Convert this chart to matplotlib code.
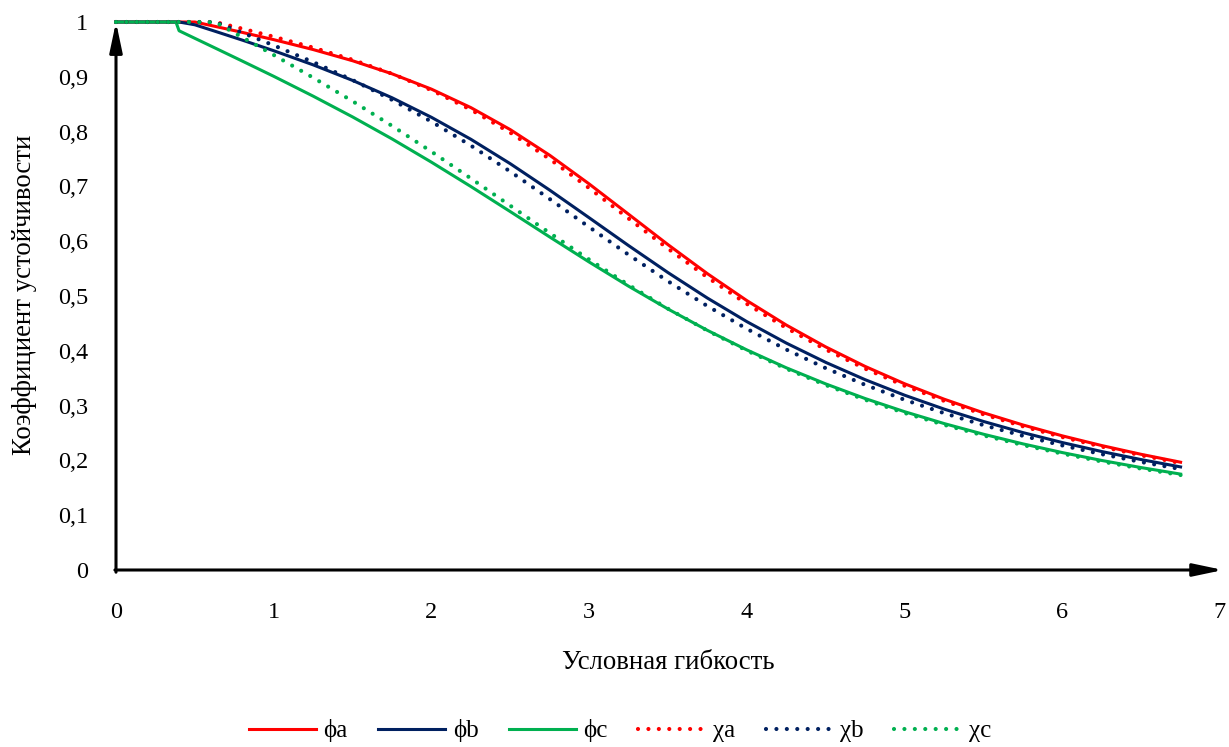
import matplotlib
matplotlib.use("Agg")
import matplotlib.pyplot as plt

# ---- data ----
slenderness = [0, 0.38, 0.4, 0.5, 0.63, 0.8, 1.0, 1.25, 1.5, 1.75, 2.0, 2.25, 2.5, 2.75,
               3.0, 3.25, 3.5, 3.75, 4.0, 4.25, 4.5, 4.75, 5.0, 5.25, 5.5, 5.75, 6.0,
               6.25, 6.5, 6.75]
phi_a = [1, 1, 1, 1, 0.9919, 0.9811, 0.9678, 0.9497, 0.9293, 0.9055, 0.8775, 0.8438,
         0.8036, 0.7568, 0.7045, 0.6492, 0.5937, 0.5407, 0.4916, 0.4470, 0.4071, 0.3715,
         0.3399, 0.3118, 0.2869, 0.2647, 0.2448, 0.2271, 0.2111, 0.1967]
phi_b = [1, 1, 1, 0.9949, 0.9829, 0.9670, 0.9476, 0.9218, 0.8934, 0.8618, 0.8261, 0.7860,
         0.7414, 0.6932, 0.6428, 0.5920, 0.5427, 0.4962, 0.4532, 0.4141, 0.3789, 0.3473,
         0.3190, 0.2937, 0.2711, 0.2508, 0.2326, 0.2162, 0.2015, 0.1881]
phi_c = [1, 1, 0.9840, 0.9702, 0.9523, 0.9288, 0.9009, 0.8647, 0.8268, 0.7867, 0.7442,
         0.6998, 0.6540, 0.6077, 0.5620, 0.5179, 0.4762, 0.4373, 0.4016, 0.3690, 0.3396,
         0.3129, 0.2889, 0.2673, 0.2478, 0.2302, 0.2143, 0.1999, 0.1869, 0.1750]
chi_a = [1, 1, 1, 1, 0.9999, 0.9879, 0.9732, 0.9533, 0.9311, 0.9056, 0.8756, 0.8400,
         0.7981, 0.7499, 0.6969, 0.6414, 0.5864, 0.5340, 0.4856, 0.4417, 0.4024, 0.3674,
         0.3363, 0.3087, 0.2841, 0.2622, 0.2426, 0.2251, 0.2093, 0.1951]
chi_b = [1, 1, 1, 1, 0.9998, 0.9805, 0.9574, 0.9269, 0.8941, 0.8580, 0.8183, 0.7745,
         0.7271, 0.6770, 0.6258, 0.5753, 0.5269, 0.4816, 0.4400, 0.4023, 0.3683, 0.3379,
         0.3106, 0.2863, 0.2644, 0.2449, 0.2273, 0.2114, 0.1971, 0.1842]
chi_c = [1, 1, 1, 1, 0.9997, 0.9722, 0.9398, 0.8984, 0.8555, 0.8105, 0.7635, 0.7146,
         0.6648, 0.6150, 0.5665, 0.5202, 0.4768, 0.4368, 0.4003, 0.3673, 0.3375, 0.3107,
         0.2866, 0.2650, 0.2456, 0.2281, 0.2123, 0.1980, 0.1850, 0.1733]

series_labels = ["ϕa", "ϕb", "ϕc", "χa", "χb", "χc"]
x_ticks = [0, 1, 2, 3, 4, 5, 6, 7]
x_tick_labels = ["0", "1", "2", "3", "4", "5", "6", "7"]
y_ticks = [0, 0.1, 0.2, 0.3, 0.4, 0.5, 0.6, 0.7, 0.8, 0.9, 1.0]
y_tick_labels = ["0", "0,1", "0,2", "0,3", "0,4", "0,5", "0,6", "0,7", "0,8", "0,9", "1"]
x_label = "Условная гибкость"
y_label = "Коэффициент устойчивости"

# ---- style ----
FAM = 'Liberation Serif'
plt.rcParams['font.family'] = FAM
RED, NAVY, GREEN = "#FF0000", "#002060", "#00B050"
FS_TICK = 17.5
FS_LABEL = 19.3
FS_LEG = 18

W, H = 1229, 747
fig = plt.figure(figsize=(W / 100, H / 100), dpi=100)
x0, x1, y0, y1 = 116, 1220, 570, 22
ax = fig.add_axes([x0 / W, 1 - y0 / H, (x1 - x0) / W, (y0 - y1) / H])
ax.set_xlim(0, 7)
ax.set_ylim(0, 1)

dot = (0, (0.001, 2.5))
series = [phi_a, phi_b, phi_c, chi_a, chi_b, chi_c]
colors = [RED, NAVY, GREEN, RED, NAVY, GREEN]
for i, (ys, c, lab) in enumerate(zip(series, colors, series_labels)):
    if i < 3:
        ax.plot(slenderness, ys, color=c, lw=2.2, label=lab, solid_joinstyle='round',
                clip_on=False)
    else:
        ax.plot(slenderness, ys, color=c, lw=3.0, linestyle=dot, dash_capstyle='round',
                label=lab, clip_on=False)

for s in ax.spines.values():
    s.set_visible(False)
ax.set_xticks(x_ticks)
ax.set_xticklabels(x_tick_labels, family=FAM, fontsize=FS_TICK)
ax.set_yticks(y_ticks)
ax.set_yticklabels(y_tick_labels, family=FAM, fontsize=FS_TICK)
ax.tick_params(axis='x', length=0, pad=23)
ax.tick_params(axis='y', length=0, pad=20)

arrow = dict(arrowstyle='-|>,head_length=0.9,head_width=0.19', lw=2.2, color='black',
             shrinkA=0, shrinkB=0, mutation_scale=20)
ax.annotate('', xy=(7.02, 0), xytext=(-0.007, 0), arrowprops=arrow, annotation_clip=False)
ax.annotate('', xy=(0, 1.0), xytext=(0, -0.004), arrowprops=arrow, annotation_clip=False)

fig.text((x0 + x1) / 2 / W, 1 - 669 / H, x_label, ha='center', va='baseline',
         fontsize=FS_LABEL, family=FAM)
fig.text(25 / W, 1 - 295 / H, y_label, ha='center', va='center', rotation=90,
         fontsize=FS_LABEL, family=FAM)

leg = fig.legend(loc='center', bbox_to_anchor=(620 / W, 1 - 731 / H), ncol=6, frameon=False,
                 prop={'family': FAM, 'size': FS_LEG}, handlelength=2.68,
                 handletextpad=0.3, columnspacing=1.22)

fig.savefig("out.png", dpi=100)
